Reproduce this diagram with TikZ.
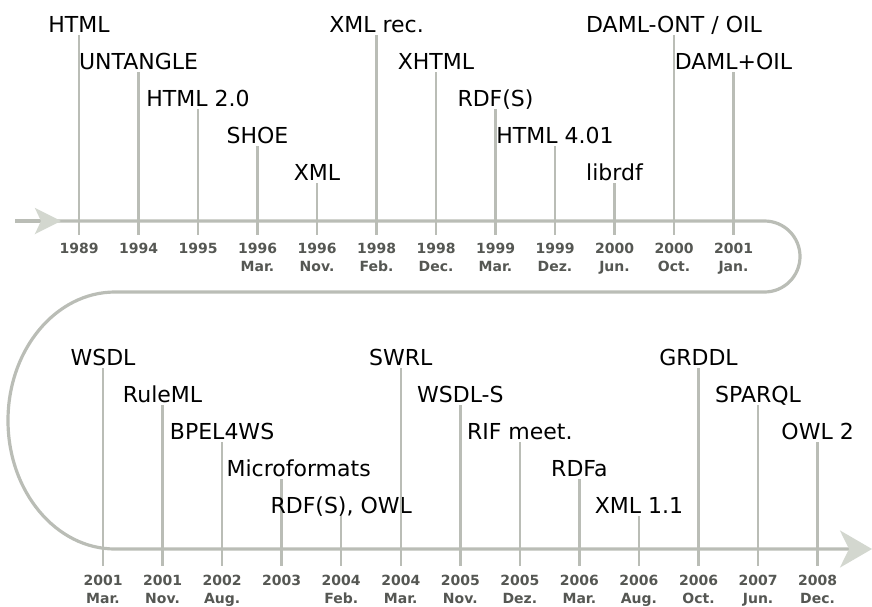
\documentclass[tikz,border=0pt]{standalone}
\usepackage{fontspec}
\setmainfont{DejaVu Sans}
\usetikzlibrary{arrows.meta}
\usetikzlibrary{positioning}
\definecolor{linegray}{HTML}{BABDB6}
\definecolor{tipgray}{HTML}{D3D7CF}
\definecolor{dategray}{HTML}{555753}
\tikzset{
  axisline/.style={line width=3.2pt,draw=linegray},
  tickline/.style={line width=2.4pt,draw=linegray},
  event/.style={anchor=base,inner sep=0pt,outer sep=3pt,text depth=0pt,font=\fontsize{22}{26}\selectfont},
  datelbl/.style={inner sep=0pt,align=center,text=dategray,font=\fontsize{14}{17.5}\selectfont\bfseries}
}

\begin{document}
\begin{tikzpicture}[x=1pt,y=-1pt]
                \useasboundingbox (0,0) rectangle (872,606);
                \coordinate (start) at (15,221);
                \coordinate (tip1) at (61,221);
                \coordinate (stop) at (872,549);
                % the time line, once round
                \draw[axisline,-{Stealth[length=32pt,width=37pt,inset=9pt,color=tipgray]}] (start) -- (764.5,221)
                    arc[start angle=-90,end angle=90,radius=35.5] -- (115,292)
                    arc[start angle=270,end angle=90,x radius=107,y radius=128.5] -- (stop);
                \draw[axisline,-{Stealth[length=26pt,width=26pt,inset=6pt,color=tipgray]}] (start) -- (tip1);
                % upper row
                \foreach \i/\lev/\txt/\yr/\mo in {0/0/HTML/1989/{}, 1/1/UNTANGLE/1994/{}, 2/2/HTML 2.0/1995/{},
                    3/3/SHOE/1996/Mar., 4/4/XML/1996/Nov., 5/0/XML rec./1998/Feb., 6/1/XHTML/1998/Dec.,
                    7/2/RDF(S)/1999/Mar., 8/3/HTML 4.01/1999/Dez., 9/4/librdf/2000/Jun.,
                    10/0/{DAML-ONT / OIL}/2000/Oct., 11/1/DAML+OIL/2001/Jan.}{
                  \pgfmathsetmacro{\xx}{79+59.5*\i}
                  \coordinate (tk\i) at (\xx,235);
                  \node[event] (ev\i) at (\xx,32+37*\lev) {\txt};
                  \draw[tickline] (tk\i |- ev\i.south) -- (tk\i);
                  \node[datelbl,below=8pt of tk\i] (yr\i) {\yr\\\mo};
                }
                % lower row
                \foreach \i/\lev/\txt/\yr/\mo/\dx in {0/0/WSDL/2001/Mar./0, 1/1/RuleML/2001/Nov./0, 2/2/BPEL4WS/2002/Aug./0,
                    3/3/Microformats/2003/{}/17, 4/4/{RDF(S), OWL}/2004/Feb./0, 5/0/SWRL/2004/Mar./0,
                    6/1/WSDL-S/2005/Nov./0, 7/2/RIF meet./2005/Dez./0, 8/3/RDFa/2006/Mar./0,
                    9/4/XML 1.1/2006/Aug./0, 10/0/GRDDL/2006/Oct./0, 11/1/SPARQL/2007/Jun./0, 12/2/OWL 2/2008/Dec./0}{
                  \pgfmathsetmacro{\xx}{103+59.55*\i}
                  \coordinate (tkb\i) at (\xx,566);
                  \node[event,xshift=\dx] (evb\i) at (\xx,365+37*\lev) {\txt};
                  \draw[tickline] (tkb\i |- evb\i.south) -- (tkb\i);
                  \node[datelbl,below=9pt of tkb\i] (yrb\i) {\yr\\\mo};
                }
\end{tikzpicture}
\end{document}
